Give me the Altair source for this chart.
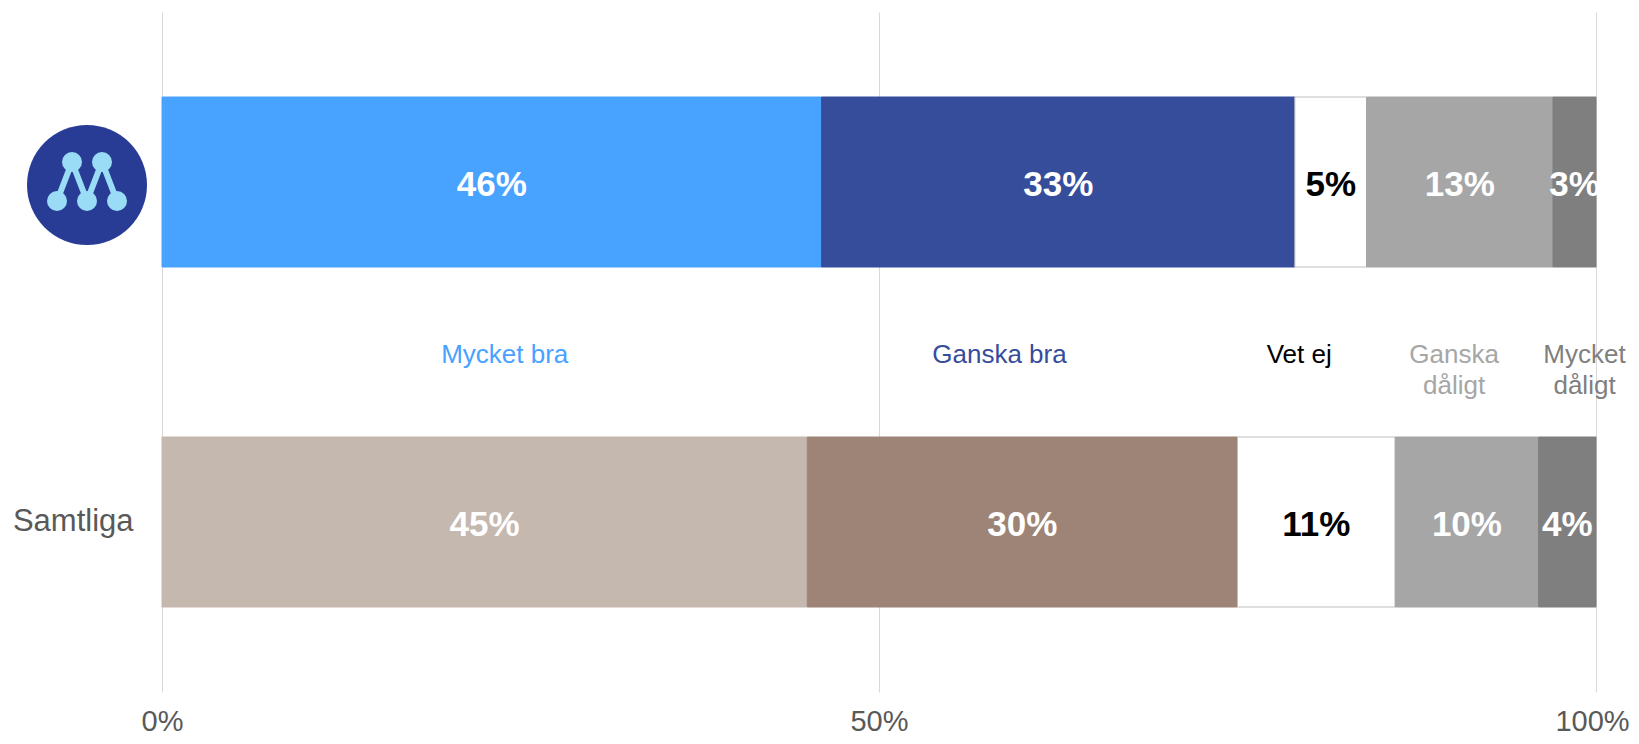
import urllib.parse
import altair as alt
import pandas as pd

# ---- data ----
categories = ["Mycket bra", "Ganska bra", "Vet ej", "Ganska dåligt", "Mycket dåligt"]
rows = ["Moderaterna", "Samtliga"]
party_values = [46, 33, 5, 13, 3]
all_values = [45, 30, 11, 10, 4]
legend_labels = ["Mycket bra", "Ganska bra", "Vet ej", "Ganska\ndåligt", "Mycket\ndåligt"]
legend_label_x = [23.9, 58.4, 79.3, 90.1, 99.2]
x_ticks = [0, 50, 100]

# ---- styles ----
party_colors = ["#48A2FF", "#364D9C", "#FFFFFF", "#A6A6A6", "#7F7F7F"]
all_colors = ["#C5B8AF", "#9E8477", "#FFFFFF", "#A6A6A6", "#7F7F7F"]
legend_colors = ["#48A2FF", "#364D9C", "#000000", "#A6A6A6", "#7F7F7F"]
FONT = "Liberation Sans"
y_domain = ["Moderaterna", "legend", "Samtliga"]

recs = []
for row, vals, cols in [(rows[0], party_values, party_colors), (rows[1], all_values, all_colors)]:
    start = 0
    for cat, v, c in zip(categories, vals, cols):
        recs.append({
            "row": row, "cat": cat, "value": v,
            "start": start, "end": start + v, "mid": start + v / 2,
            "label": f"{v}%",
            "fill": c,
            "stroke": "#BFBFBF" if cat == "Vet ej" else c,
            "tcolor": "#000000" if cat == "Vet ej" else "#FFFFFF",
        })
        start += v
df = pd.DataFrame(recs)

leg = pd.DataFrame({"row": ["legend"] * len(legend_labels), "x": legend_label_x,
                    "text": legend_labels, "color": legend_colors})

svg = (
    '<svg xmlns="http://www.w3.org/2000/svg" width="120" height="126" viewBox="0 -6 120 126">'
    '<circle cx="60" cy="60" r="60" fill="#283C96"/>'
    '<polyline points="30,76 45,37 60,76 75,37 90,76" fill="none" stroke="#9ADCF5" '
    'stroke-width="6" stroke-linejoin="round"/>'
    '<circle cx="45" cy="37" r="10" fill="#9ADCF5"/>'
    '<circle cx="75" cy="37" r="10" fill="#9ADCF5"/>'
    '<circle cx="30" cy="76" r="10" fill="#9ADCF5"/>'
    '<circle cx="60" cy="76" r="10" fill="#9ADCF5"/>'
    '<circle cx="90" cy="76" r="10" fill="#9ADCF5"/>'
    '</svg>'
)
logo_df = pd.DataFrame({"row": ["Moderaterna"],
                        "url": ["data:image/svg+xml;charset=utf-8," + urllib.parse.quote(svg)]})

xscale = alt.Scale(domain=[0, 100], nice=False, zero=False)
yscale = alt.Scale(domain=y_domain, paddingInner=0, paddingOuter=0.5)

x_axis = alt.Axis(values=x_ticks, labelExpr="datum.value + '%'", grid=True, gridColor="#D9D9D9",
                  gridWidth=1, ticks=False, domain=False, labelFontSize=29, labelColor="#595959",
                  labelFont=FONT, labelBaseline="alphabetic", labelPadding=38,
                  labelOffset={"condition": {"test": "datum.value == 100", "value": -4}, "value": 0},
                  labelFlush=False, title=None)
y_axis = alt.Axis(labelExpr="datum.value == 'Samtliga' ? datum.value : ''", ticks=False,
                  domain=False, grid=False, labelFontSize=31, labelColor="#595959",
                  labelFont=FONT, labelPadding=29, title=None)

bars = alt.Chart(df).mark_bar(strokeWidth=1).encode(
    x=alt.X("start:Q", scale=xscale, axis=x_axis),
    x2="end:Q",
    y=alt.Y("row:N", scale=yscale, axis=y_axis, sort=y_domain),
    fill=alt.Fill("fill:N", scale=None),
    stroke=alt.Stroke("stroke:N", scale=None),
)

pct = alt.Chart(df).mark_text(font=FONT, fontSize=35, fontWeight="bold", baseline="middle",
                              align="center", dy=3).encode(
    x=alt.X("mid:Q", scale=xscale),
    y=alt.Y("row:N", scale=yscale, sort=y_domain),
    text="label:N",
    color=alt.Color("tcolor:N", scale=None),
)

legend_text = alt.Chart(leg).mark_text(font=FONT, fontSize=26, baseline="middle", align="center",
                                       lineBreak="\n", lineHeight=31, dy=3).encode(
    x=alt.X("x:Q", scale=xscale),
    y=alt.Y("row:N", scale=yscale, sort=y_domain),
    text="text:N",
    color=alt.Color("color:N", scale=None),
)

logo = alt.Chart(logo_df).mark_image(width=120, height=126, align="center", baseline="middle").encode(
    x=alt.value(-75),
    y=alt.Y("row:N", scale=yscale, sort=y_domain),
    url="url:N",
)

chart = alt.layer(bars, pct, legend_text, logo).properties(
    width=1434, height=680,
    autosize=alt.AutoSizeParams(type="none"),
    padding={"left": 154, "top": 4, "right": 35, "bottom": 44},
).configure_view(strokeWidth=0)

chart.save("out.html", embed_options={"renderer": "svg", "actions": False})
